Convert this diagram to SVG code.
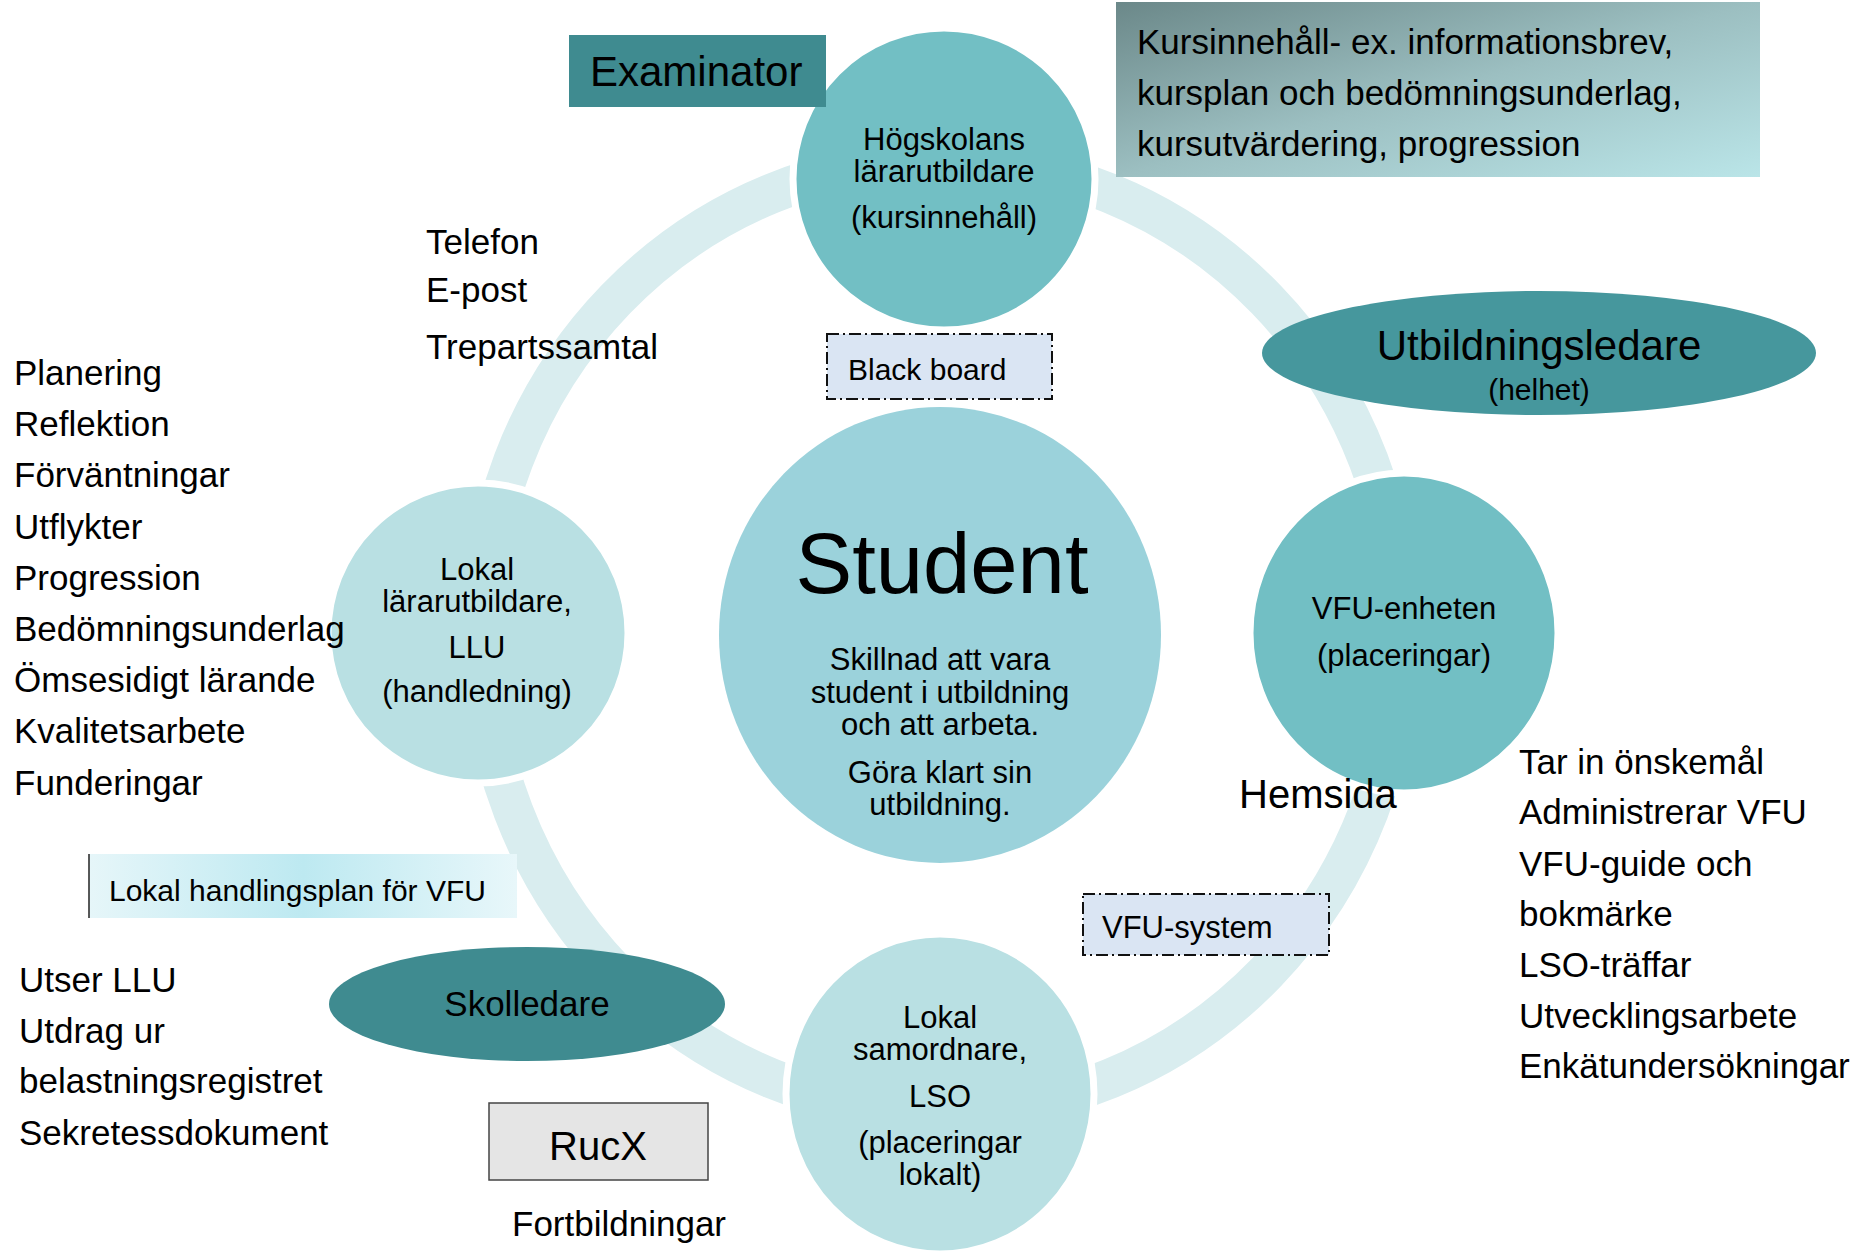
<svg xmlns="http://www.w3.org/2000/svg" width="1854" height="1256" viewBox="0 0 1854 1256">
<style>
text{font-family:"Liberation Sans",Arial,sans-serif;fill:#000}
.side{font-size:35px}
.node{font-size:31px;text-anchor:middle}
.dash{fill:#dae5f3;stroke:#111;stroke-width:2;stroke-dasharray:12,4,2,4}
.circ{stroke:#fff;stroke-width:7}
</style>
<defs>
<linearGradient id="gKurs" x1="0" y1="0" x2="1" y2="1">
<stop offset="0" stop-color="#6b8889"/>
<stop offset="0.5" stop-color="#9cbfc1"/>
<stop offset="1" stop-color="#bae5e8"/>
</linearGradient>
<linearGradient id="gLok" x1="0" y1="0" x2="1" y2="0">
<stop offset="0" stop-color="#e6f6f9"/>
<stop offset="0.5" stop-color="#bde9f1"/>
<stop offset="1" stop-color="#e8f7fa"/>
</linearGradient>
</defs>
<rect width="1854" height="1256" fill="#fff"/>
<g id="connectors">
<ellipse cx="941" cy="636" rx="460" ry="476" fill="none" stroke="#d9edef" stroke-width="40"/>
</g>
<g id="node-hogskolans">
<circle class="circ" cx="944" cy="179" r="151" fill="#72bfc4"/>
<text class="node" x="944" y="150">Högskolans</text>
<text class="node" x="944" y="182">lärarutbildare</text>
<text class="node" x="944" y="228">(kursinnehåll)</text>
</g>
<g id="node-llu">
<circle class="circ" cx="478" cy="633" r="150" fill="#b9e0e3"/>
<text class="node" x="477" y="580">Lokal</text>
<text class="node" x="477" y="612">lärarutbildare,</text>
<text class="node" x="477" y="658">LLU</text>
<text class="node" x="477" y="702">(handledning)</text>
</g>
<g id="node-vfu-enheten">
<ellipse class="circ" cx="1404" cy="633" rx="154" ry="160" fill="#72bfc4"/>
<text class="node" x="1404" y="619">VFU-enheten</text>
<text class="node" x="1404" y="666">(placeringar)</text>
</g>
<g id="node-lso">
<ellipse class="circ" cx="940" cy="1094" rx="154" ry="160" fill="#b9e0e3"/>
<text class="node" x="940" y="1028">Lokal</text>
<text class="node" x="940" y="1060">samordnare,</text>
<text class="node" x="940" y="1107">LSO</text>
<text class="node" x="940" y="1153">(placeringar</text>
<text class="node" x="940" y="1185">lokalt)</text>
</g>
<g id="node-student">
<ellipse cx="940" cy="635" rx="221" ry="228" fill="#9bd2db"/>
<text x="942" y="593" style="font-size:85px;text-anchor:middle">Student</text>
<text class="node" x="940" y="670">Skillnad att vara</text>
<text class="node" x="940" y="703">student i utbildning</text>
<text class="node" x="940" y="735">och att arbeta.</text>
<text class="node" x="940" y="783">Göra klart sin</text>
<text class="node" x="940" y="815">utbildning.</text>
</g>
<g id="node-examinator">
<rect x="569" y="35" width="257" height="72" fill="#3f8b90"/>
<text x="590" y="86" style="font-size:42px">Examinator</text>
</g>
<g id="node-kursinnehall">
<rect x="1116" y="2" width="644" height="175" fill="url(#gKurs)"/>
<text class="side" x="1137" y="54">Kursinnehåll- ex. informationsbrev,</text>
<text class="side" x="1137" y="105">kursplan och bedömningsunderlag,</text>
<text class="side" x="1137" y="156">kursutvärdering, progression</text>
</g>
<g id="node-utbildningsledare">
<ellipse cx="1539" cy="353" rx="277" ry="62" fill="#46979d"/>
<text x="1539" y="360" style="font-size:42px;text-anchor:middle">Utbildningsledare</text>
<text x="1539" y="400" style="font-size:30px;text-anchor:middle">(helhet)</text>
</g>
<g id="node-skolledare">
<ellipse cx="527" cy="1004" rx="198" ry="57" fill="#3f8b90"/>
<text class="side" x="527" y="1016" style="text-anchor:middle">Skolledare</text>
</g>
<g id="node-blackboard">
<rect class="dash" x="827" y="334" width="225" height="65"/>
<text x="848" y="380" style="font-size:30px">Black board</text>
</g>
<g id="node-vfu-system">
<rect class="dash" x="1083" y="894" width="246" height="61"/>
<text x="1102" y="938" style="font-size:31px">VFU-system</text>
</g>
<g id="node-hemsida">
<text x="1239" y="808" style="font-size:40px">Hemsida</text>
</g>
<g id="node-lokal-handlingsplan">
<rect x="89" y="854" width="428" height="64" fill="url(#gLok)"/>
<line x1="89" y1="854" x2="89" y2="918" stroke="#222" stroke-width="1.5"/>
<text x="109" y="901" style="font-size:30px">Lokal handlingsplan för VFU</text>
</g>
<g id="node-rucx">
<rect x="489" y="1103" width="219" height="77" fill="#e5e5e5" stroke="#444" stroke-width="1.5"/>
<text x="598" y="1160" style="font-size:40px;text-anchor:middle">RucX</text>
</g>
<g id="node-fortbildningar">
<text class="side" x="512" y="1236">Fortbildningar</text>
</g>
<g id="node-kontakt">
<text class="side" x="426" y="254">Telefon</text>
<text class="side" x="426" y="302">E-post</text>
<text class="side" x="426" y="359">Trepartssamtal</text>
</g>
<g id="node-llu-lista">
<text class="side" x="14" y="385">Planering</text>
<text class="side" x="14" y="436">Reflektion</text>
<text class="side" x="14" y="487">Förväntningar</text>
<text class="side" x="14" y="539">Utflykter</text>
<text class="side" x="14" y="590">Progression</text>
<text class="side" x="14" y="641">Bedömningsunderlag</text>
<text class="side" x="14" y="692">Ömsesidigt lärande</text>
<text class="side" x="14" y="743">Kvalitetsarbete</text>
<text class="side" x="14" y="795">Funderingar</text>
</g>
<g id="node-skolledare-lista">
<text class="side" x="19" y="992">Utser LLU</text>
<text class="side" x="19" y="1043">Utdrag ur</text>
<text class="side" x="19" y="1093">belastningsregistret</text>
<text class="side" x="19" y="1145">Sekretessdokument</text>
</g>
<g id="node-vfu-lista">
<text class="side" x="1519" y="774">Tar in önskemål</text>
<text class="side" x="1519" y="824">Administrerar VFU</text>
<text class="side" x="1519" y="876">VFU-guide och</text>
<text class="side" x="1519" y="926">bokmärke</text>
<text class="side" x="1519" y="977">LSO-träffar</text>
<text class="side" x="1519" y="1028">Utvecklingsarbete</text>
<text class="side" x="1519" y="1078">Enkätundersökningar</text>
</g>
</svg>
